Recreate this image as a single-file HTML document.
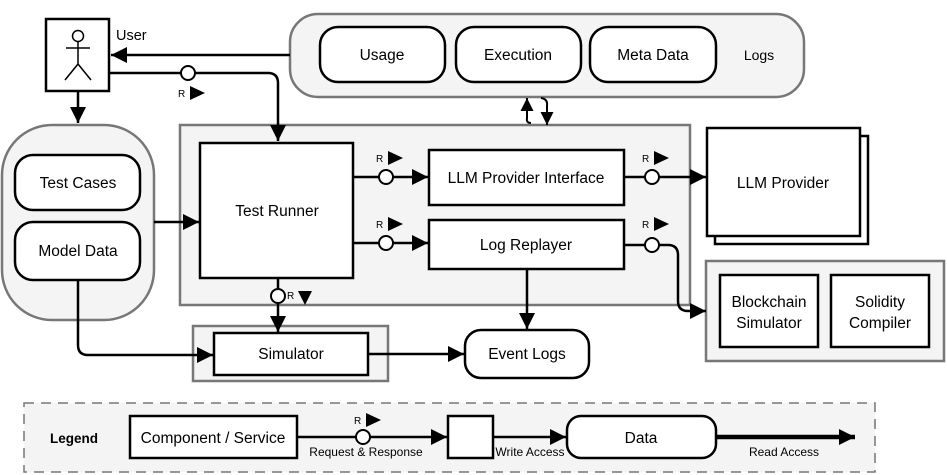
<!DOCTYPE html>
<html><head><meta charset="utf-8"><style>body{margin:0;background:#fff}svg{display:block}text{font-family:"Liberation Sans",Arial,sans-serif;fill:#000}</style></head>
<body>
<svg width="947" height="475" viewBox="0 0 947 475">
<defs>
<marker id="h" viewBox="0 0 10 10" refX="10" refY="5" markerWidth="16" markerHeight="16" orient="auto" markerUnits="userSpaceOnUse"><path d="M0,0L10,5L0,10z"/></marker>
<marker id="s" viewBox="0 0 10 10" refX="10" refY="5" markerWidth="13" markerHeight="13" orient="auto" markerUnits="userSpaceOnUse"><path d="M0,0L10,5L0,10z"/></marker>
</defs>
<g stroke="#777" stroke-width="2.5" fill="#f4f4f4">
<rect x="290" y="14" width="514" height="83" rx="28"/>
<rect x="2" y="125" width="152" height="195" rx="50"/>
<rect x="180" y="125" width="510" height="180"/>
<rect x="193" y="326" width="195" height="55"/>
<rect x="706" y="261" width="238" height="100"/>
</g>
<rect x="24" y="403" width="851" height="69" fill="#f4f4f4" stroke="#777" stroke-width="1.5" stroke-dasharray="10,7"/>
<g stroke="#000" stroke-width="2.5" fill="#fff">
<rect x="46" y="19" width="63" height="72"/>
<rect x="320" y="27" width="125" height="55" rx="18"/>
<rect x="456" y="27" width="125" height="55" rx="18"/>
<rect x="590" y="27" width="126" height="55" rx="18"/>
<rect x="15" y="155" width="125" height="55" rx="18"/>
<rect x="15" y="222" width="125" height="58" rx="18"/>
<rect x="200" y="143" width="153" height="135"/>
<rect x="429" y="150" width="195" height="55"/>
<rect x="429" y="220" width="195" height="49"/>
<rect x="715" y="136" width="153" height="108"/>
<rect x="707" y="128" width="153" height="108"/>
<rect x="720" y="275" width="98" height="72"/>
<rect x="831" y="275" width="98" height="72"/>
<rect x="214" y="333" width="154" height="42"/>
<rect x="465" y="330" width="124" height="48" rx="16"/>
<rect x="130" y="416" width="167" height="42"/>
<rect x="448" y="416" width="45" height="42"/>
<rect x="567" y="416" width="149" height="42" rx="14"/>
</g>
<g stroke="#000" stroke-width="1.5" fill="none">
<circle cx="78" cy="36" r="5.5" fill="#fff"/>
<path d="M78 42V64M66 48H90M78 64L65 80M78 64L91 80"/>
</g>
<g stroke="#000" stroke-width="2.5" fill="none">
<path d="M290 55H111" marker-end="url(#h)"/>
<path d="M110 73H268Q278 73 278 83V141" marker-end="url(#h)"/>
<path d="M78 91V123" marker-end="url(#h)"/>
<path d="M154 222H199" marker-end="url(#h)"/>
<path d="M353 177H428" marker-end="url(#h)"/>
<path d="M353 243H428" marker-end="url(#h)"/>
<path d="M624 177H706" marker-end="url(#h)"/>
<path d="M624 245H668Q678 245 678 255V301Q678 311 688 311H706" marker-end="url(#h)"/>
<path d="M278 278V332" marker-end="url(#h)"/>
<path d="M78 280V345Q78 355 88 355H213" marker-end="url(#h)"/>
<path d="M368 354H464" marker-end="url(#h)"/>
<path d="M527 269V329" marker-end="url(#h)"/>
<path d="M531 123Q526 123 527 118V98" stroke-width="2" marker-end="url(#s)"/>
<path d="M541 98Q548 99 547 106V125" stroke-width="2" marker-end="url(#s)"/>
<path d="M297 437H447" marker-end="url(#h)"/>
<path d="M493 437H566" marker-end="url(#h)"/>
<path d="M716 437H855" stroke-width="4.5" marker-end="url(#h)"/>
</g>
<g stroke="#000" stroke-width="2" fill="#fff">
<circle cx="188" cy="73" r="7"/>
<circle cx="386" cy="177" r="7"/>
<circle cx="386" cy="243" r="7"/>
<circle cx="652" cy="177" r="7"/>
<circle cx="652" cy="245" r="7"/>
<circle cx="278" cy="296" r="7"/>
<circle cx="363" cy="437" r="7"/>
</g>
<g font-size="10">
<text x="178" y="97">R</text><path d="M190 86L205 93L190 100z"/>
<text x="376" y="162">R</text><path d="M388 151L403 158L388 165z"/>
<text x="376" y="228">R</text><path d="M388 217L403 224L388 231z"/>
<text x="642" y="162">R</text><path d="M654 151L669 158L654 165z"/>
<text x="642" y="228">R</text><path d="M654 217L669 224L654 231z"/>
<text x="287" y="299">R</text><path d="M298 291L312 291L305 305z"/>
<text x="354" y="424">R</text><path d="M366 413L381 420L366 427z"/>
</g>
<g font-size="15.5" text-anchor="middle">
<text x="116" y="40" text-anchor="start" font-size="14.5">User</text>
<text x="382" y="60">Usage</text>
<text x="518" y="60">Execution</text>
<text x="653" y="60">Meta Data</text>
<text x="759" y="60" font-size="14">Logs</text>
<text x="78" y="188">Test Cases</text>
<text x="78" y="256">Model Data</text>
<text x="277" y="216">Test Runner</text>
<text x="526" y="183">LLM Provider Interface</text>
<text x="526" y="250">Log Replayer</text>
<text x="783" y="188">LLM Provider</text>
<text x="769" y="307">Blockchain</text>
<text x="769" y="328">Simulator</text>
<text x="880" y="307">Solidity</text>
<text x="880" y="328">Compiler</text>
<text x="291" y="359">Simulator</text>
<text x="527" y="359">Event Logs</text>
<text x="74" y="443" font-weight="bold" font-size="13.5">Legend</text>
<text x="213" y="443">Component / Service</text>
<text x="641" y="443">Data</text>
</g>
<g font-size="12" text-anchor="middle">
<text x="366" y="456">Request &amp; Response</text>
<text x="530" y="456">Write Access</text>
<text x="784" y="456">Read Access</text>
</g>
</svg>
</body></html>
